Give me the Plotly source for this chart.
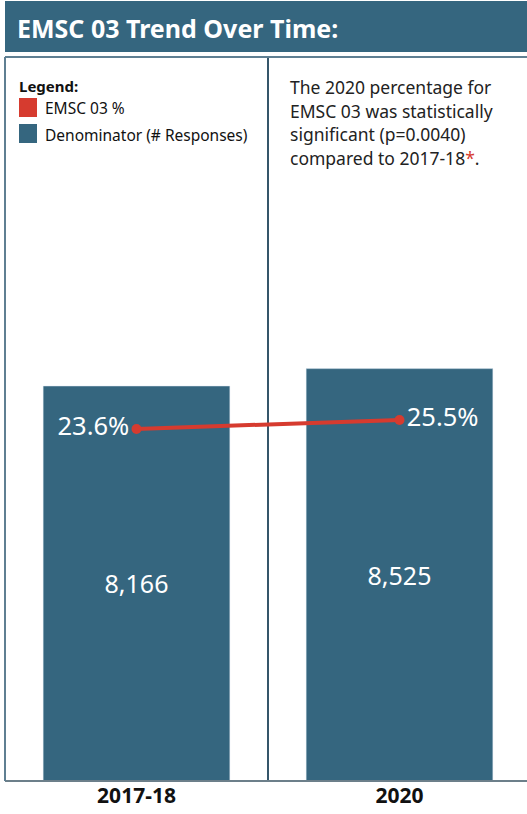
import plotly.graph_objects as go

categories = ["2017-18", "2020"]
denominators = [8166, 8525]
percentages = [23.6, 25.5]
pct_labels = ["23.6%", "25.5%"]

W, H = 531, 814
L, T, B = 5, 57, 33
PW, PH = W - L, H - T - B
BAR_C = "#35667f"
RED = "#d63b2f"
FONT = "Noto Sans"

def px_y(y):
    return (H - B - y) / PH

def px_x(x):
    return (x - L) / PW

fig = go.Figure()
fig.add_trace(go.Bar(
    x=[0, 1], y=denominators, width=0.71, marker_color=BAR_C,
    text=[f"{v:,}" for v in denominators], textposition="inside",
    insidetextanchor="middle", textangle=0,
    textfont=dict(color="white", size=25, family=FONT),
    hoverinfo="skip", showlegend=False,
))
fig.add_trace(go.Scatter(
    x=[0, 1], y=percentages, yaxis="y2", mode="lines+markers+text",
    line=dict(color=RED, width=4), marker=dict(color=RED, size=10),
    text=pct_labels,
    textposition=["middle left", "middle right"],
    textfont=dict(color="white", size=25.5, family=FONT),
    showlegend=False, cliponaxis=False,
))

fig.update_layout(
    width=W, height=H, margin=dict(l=L, r=0, t=T, b=B),
    plot_bgcolor="white", paper_bgcolor="white",
    font=dict(family=FONT),
    xaxis=dict(range=[-0.5, 1.5], tickvals=[0, 1], ticktext=categories,
               showgrid=False, zeroline=False, showline=False,
               tickfont=dict(size=21, color="#111", family=FONT, weight="bold"),
               ticks="", ticklen=0),
    yaxis=dict(range=[0, 14967], visible=False, showgrid=False),
    yaxis2=dict(range=[-50.9, 102.3], visible=False, overlaying="y", showgrid=False),
    shapes=[
        dict(type="rect", xref="paper", yref="paper", x0=0, x1=px_x(527),
             y0=px_y(52), y1=px_y(1), fillcolor=BAR_C, line_width=0, layer="above"),
        dict(type="line", xref="paper", yref="paper", x0=0, x1=1, y0=1, y1=1,
             line=dict(color="#5f7f92", width=2)),
        dict(type="line", xref="paper", yref="paper", x0=0, x1=1, y0=0, y1=0,
             line=dict(color="#6c7f8a", width=2)),
        dict(type="line", xref="paper", yref="paper", x0=0, x1=0, y0=0, y1=1,
             line=dict(color="#5f7f92", width=2)),
        dict(type="line", xref="x", yref="paper", x0=0.5, x1=0.5, y0=0, y1=1,
             line=dict(color="#35566a", width=2), layer="below"),
        dict(type="rect", xref="paper", yref="paper", x0=px_x(19), x1=px_x(37),
             y0=px_y(117), y1=px_y(98), fillcolor=RED, line_width=0),
        dict(type="rect", xref="paper", yref="paper", x0=px_x(19), x1=px_x(37),
             y0=px_y(143), y1=px_y(124), fillcolor=BAR_C, line_width=0),
    ],
)

ann = []
ann.append(dict(text="<b>EMSC 03 Trend Over Time:</b>", x=px_x(15), y=px_y(28),
                xanchor="left", yanchor="middle", font=dict(size=25, color="white", family=FONT)))
ann.append(dict(text="<b>Legend:</b>", x=px_x(17), y=px_y(86),
                xanchor="left", yanchor="middle", font=dict(size=15, color="#111", family=FONT)))
ann.append(dict(text="EMSC 03 %", x=px_x(43), y=px_y(108),
                xanchor="left", yanchor="middle", font=dict(size=15.5, color="#111", family=FONT)))
ann.append(dict(text="Denominator (# Responses)", x=px_x(43), y=px_y(135),
                xanchor="left", yanchor="middle", font=dict(size=15.5, color="#111", family=FONT)))
note_lines = ["The 2020 percentage for", "EMSC 03 was statistically",
              "significant (p=0.0040)",
              "compared to 2017-18<span style='color:#d63b2f'>*</span>."]
for i, line in enumerate(note_lines):
    ann.append(dict(text=line, x=px_x(288), y=px_y(87 + i * 23.7),
                    xanchor="left", yanchor="middle", font=dict(size=17.5, color="#222", family=FONT)))
for a in ann:
    a.update(xref="paper", yref="paper", showarrow=False)
fig.update_layout(annotations=ann)

fig.write_html(
    "out.html", config={"displayModeBar": False},
    post_script=("document.body.style.margin='0';"
                 "document.body.style.overflow='hidden';"
                 "document.documentElement.style.overflow='hidden';"),
)
